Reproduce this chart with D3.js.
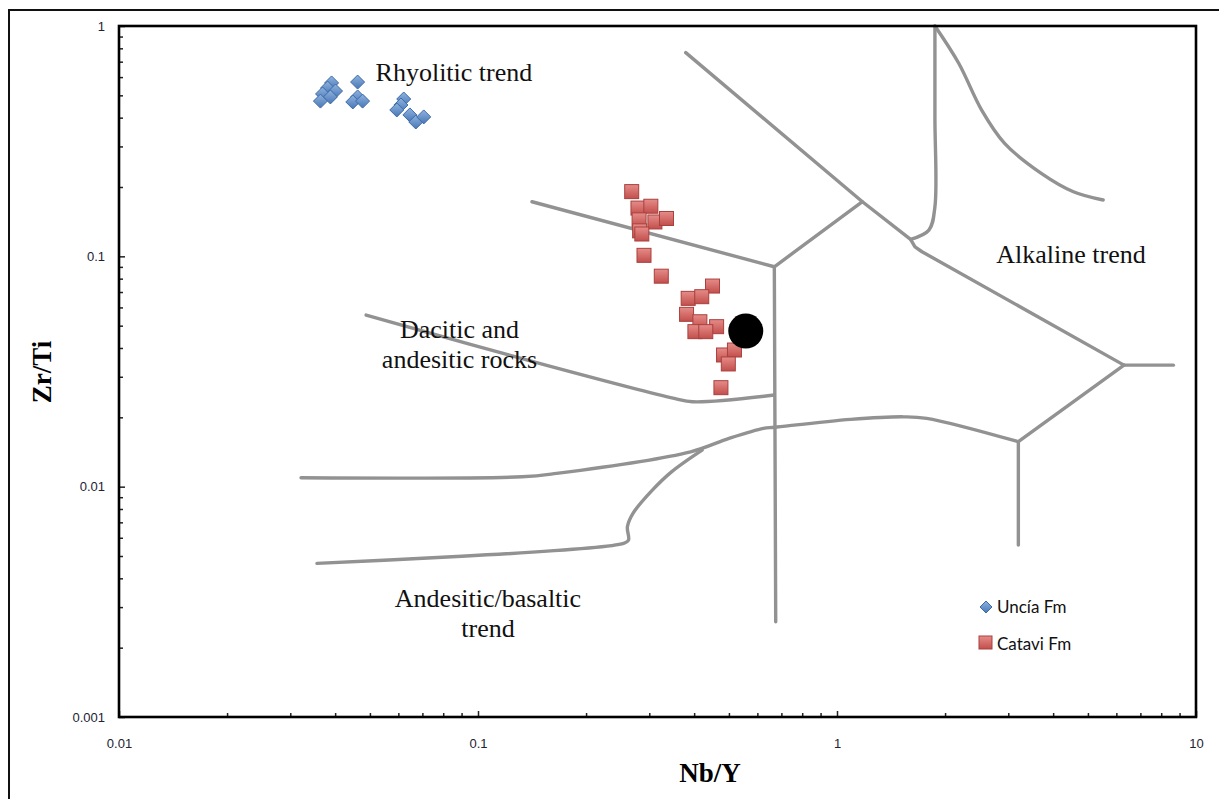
<!DOCTYPE html>
<html><head><meta charset="utf-8">
<script src="https://cdn.jsdelivr.net/npm/d3@7"></script>
<style>body{margin:0;background:#fff;} svg{display:block}</style>
</head><body>
<svg id="c" width="1219" height="799"></svg>
<script>
// ---------- DATA ----------
const unciaNbY  = [0.0391,0.0381,0.0401,0.0369,0.0388,0.0364,0.0462,0.0462,0.0448,0.0477,0.0621,0.0610,0.0594,0.0646,0.0671,0.0706];
const unciaZrTi = [0.566,0.538,0.522,0.507,0.492,0.472,0.571,0.492,0.468,0.472,0.482,0.454,0.432,0.411,0.383,0.403];

const cataviNbY  = [0.268,0.279,0.303,0.281,0.311,0.335,0.282,0.286,0.290,0.324,0.450,0.385,0.420,0.381,0.415,0.462,0.402,0.431,0.483,0.518,0.498,0.475];
const cataviZrTi = [0.191,0.162,0.165,0.144,0.141,0.146,0.129,0.125,0.101,0.082,0.0743,0.0657,0.0668,0.056,0.052,0.0495,0.0471,0.0471,0.0373,0.0392,0.0341,0.0269];

const refNbY = [0.557];
const refZrTi = [0.0474];

// field boundaries (Nb/Y, Zr/Ti)
const bDiagonal   = [[0.379,0.766],[1.177,0.1726],[1.603,0.1185],[1.649,0.110],[1.725,0.1047],[6.30,0.0337]];
const bStub       = [[6.30,0.0337],[8.65,0.0337]];
const bRightLow   = [[6.30,0.0337],[3.20,0.01567]];
const bRightVert  = [[3.20,0.01567],[3.20,0.00558]];
const bShort      = [[0.669,0.0901],[1.177,0.1726]];
const bDacUpper   = [[0.1414,0.1726],[0.669,0.0901]];
const bMainVert   = [[0.669,0.0901],[0.675,0.00259]];
const bTopHook    = [[1.874,1],[1.874,0.40],[1.874,0.1642],[1.803,0.130],[1.603,0.1185]];
const bTopCurve   = [[1.874,1],[2.183,0.689],[2.529,0.4316],[2.930,0.3095],[3.707,0.2293],[4.555,0.1908],[5.514,0.1756]];
const bDacLower   = [[0.0488,0.0556],[0.1545,0.0337],[0.352,0.02417],[0.3963,0.02336],[0.669,0.025]];
const bLower      = [[0.03214,0.01093],[0.1326,0.01104],[0.1655,0.01142],[0.391,0.01417],[0.5003,0.0162],[0.6237,0.0179],[0.669,0.0181],[1.0925,0.0196],[1.534,0.0201],[1.777,0.0198],[3.20,0.01567]];
const bBottom     = [[0.0356,0.004645],[0.2544,0.00567],[0.2625,0.00586],[0.2607,0.0067],[0.2702,0.00766],[0.3059,0.00966],[0.3459,0.0116],[0.4209,0.01442]];

const xMajor = [0.01,0.1,1,10];
const yMajor = [0.001,0.01,0.1,1];
const xTickLabels = ["0.01","0.1","1","10"];
const yTickLabels = ["0.001","0.01","0.1","1"];

const fieldNames = [["Rhyolitic trend"],["Dacitic and","andesitic rocks"],["Alkaline trend"],["Andesitic/basaltic","trend"]];
const seriesNames = ["Uncía Fm","Catavi Fm"];

// ---------- DRAW ----------
const svg = d3.select("#c");
const L=119, R=1196, T=26, B=717;
const x = d3.scaleLog().domain([0.01,10]).range([L,R]);
const y = d3.scaleLog().domain([0.001,1]).range([B,T]);

const defs = svg.append("defs");
const gb = defs.append("linearGradient").attr("id","gBlue").attr("x1",0).attr("y1",0).attr("x2",0).attr("y2",1);
gb.append("stop").attr("offset","0%").attr("stop-color","#8fb3e0");
gb.append("stop").attr("offset","100%").attr("stop-color","#4877b5");
const gr = defs.append("linearGradient").attr("id","gRed").attr("x1",0).attr("y1",0).attr("x2",0).attr("y2",1);
gr.append("stop").attr("offset","0%").attr("stop-color","#e68c89");
gr.append("stop").attr("offset","100%").attr("stop-color","#c24f4c");

// outer frame
svg.append("path").attr("d","M9,799 L9,10 L1219,10").attr("fill","none").attr("stroke","#111").attr("stroke-width",2);

// minor ticks
const minorVals = (lo,hi)=>{const a=[];for(let e=lo;e<hi;e++)for(let k=2;k<=9;k++)a.push(k*Math.pow(10,e));return a;};
const gx = svg.append("g").attr("transform",`translate(0,${B})`);
gx.call(d3.axisBottom(x).tickValues(minorVals(-2,1)).tickSize(-4).tickFormat(""));
gx.call(g=>g.select(".domain").remove());
const gx2 = svg.append("g").attr("transform",`translate(0,${B})`);
gx2.call(d3.axisBottom(x).tickValues(xMajor).tickSize(-6).tickPadding(22).tickFormat((d,i)=>xTickLabels[i]));
gx2.select(".domain").remove();
const gy = svg.append("g").attr("transform",`translate(${L},0)`);
gy.call(d3.axisLeft(y).tickValues(minorVals(-3,0)).tickSize(-4).tickFormat(""));
gy.select(".domain").remove();
const gy2 = svg.append("g").attr("transform",`translate(${L},0)`);
gy2.call(d3.axisLeft(y).tickValues(yMajor).tickSize(-6).tickPadding(14).tickFormat((d,i)=>yTickLabels[i]));
gy2.select(".domain").remove();
svg.selectAll(".tick line").attr("stroke","#222").attr("stroke-width",1.5);
svg.selectAll(".tick text").attr("font-family","'Liberation Sans Narrow','Liberation Sans',Arial,sans-serif").attr("font-size",13).attr("fill","#223");

// boundaries
const straight = d3.line().x(d=>x(d[0])).y(d=>y(d[1]));
const smooth = d3.line().x(d=>x(d[0])).y(d=>y(d[1])).curve(d3.curveCatmullRom.alpha(0.5));
const gl = svg.append("g").attr("fill","none").attr("stroke","#929292").attr("stroke-width",3.4).attr("stroke-linecap","round").attr("stroke-linejoin","round");
[bDiagonal,bStub,bRightLow,bRightVert,bShort,bDacUpper,bMainVert].forEach(b=>gl.append("path").attr("d",straight(b)));
[bTopHook,bTopCurve,bDacLower,bLower,bBottom].forEach(b=>gl.append("path").attr("d",smooth(b)));

// field labels (anchored in data space: Nb/Y, Zr/Ti of first baseline)
const serif = "'Liberation Serif','Times New Roman',serif";
const lab = svg.append("g").attr("font-family",serif).attr("font-size",26).attr("fill","#111").attr("text-anchor","middle");
const labPos = [[0.0857,0.577],[0.0888,0.0442],[4.485,0.0935],[0.1066,0.0030]];
fieldNames.forEach((lines,i)=>{
  lines.forEach((t,j)=>lab.append("text").attr("x",x(labPos[i][0])).attr("y",y(labPos[i][1])+j*30).text(t));
});

// markers
const diamond = "M0,-7L7,0L0,7L-7,0Z";
svg.append("g").selectAll("path").data(unciaNbY).join("path")
  .attr("transform",(d,i)=>`translate(${x(d)},${y(unciaZrTi[i])})`)
  .attr("d",diamond).attr("fill","url(#gBlue)").attr("stroke","#3e6aa6").attr("stroke-width",1);
svg.append("g").selectAll("rect").data(cataviNbY).join("rect")
  .attr("x",d=>x(d)-7).attr("y",(d,i)=>y(cataviZrTi[i])-7).attr("width",14).attr("height",14)
  .attr("fill","url(#gRed)").attr("stroke","#a9403d").attr("stroke-width",1);
svg.append("g").selectAll("circle").data(refNbY).join("circle")
  .attr("cx",d=>x(d)).attr("cy",(d,i)=>y(refZrTi[i])).attr("r",17.5).attr("fill","#000");

// plot border
svg.append("rect").attr("x",L).attr("y",T).attr("width",R-L).attr("height",B-T).attr("fill","none").attr("stroke","#000").attr("stroke-width",2.6);

// axis titles
svg.append("text").attr("x",710).attr("y",782).attr("text-anchor","middle").attr("font-family",serif).attr("font-weight","bold").attr("font-size",27).text("Nb/Y");
svg.append("text").attr("transform","translate(51,372) rotate(-90)").attr("text-anchor","middle").attr("font-family",serif).attr("font-weight","bold").attr("font-size",27).text("Zr/Ti");

// legend
const lg = svg.append("g").attr("font-family","Lato,'Open Sans',sans-serif").attr("font-size",17).attr("fill","#111");
lg.append("path").attr("transform","translate(986,607)").attr("d","M0,-6L6,0L0,6L-6,0Z").attr("fill","url(#gBlue)").attr("stroke","#3e6aa6");
lg.append("text").attr("x",997).attr("y",613).text(seriesNames[0]);
lg.append("rect").attr("x",979).attr("y",636).attr("width",13).attr("height",13).attr("fill","url(#gRed)").attr("stroke","#a9403d");
lg.append("text").attr("x",997).attr("y",650).text(seriesNames[1]);
</script>
</body></html>
